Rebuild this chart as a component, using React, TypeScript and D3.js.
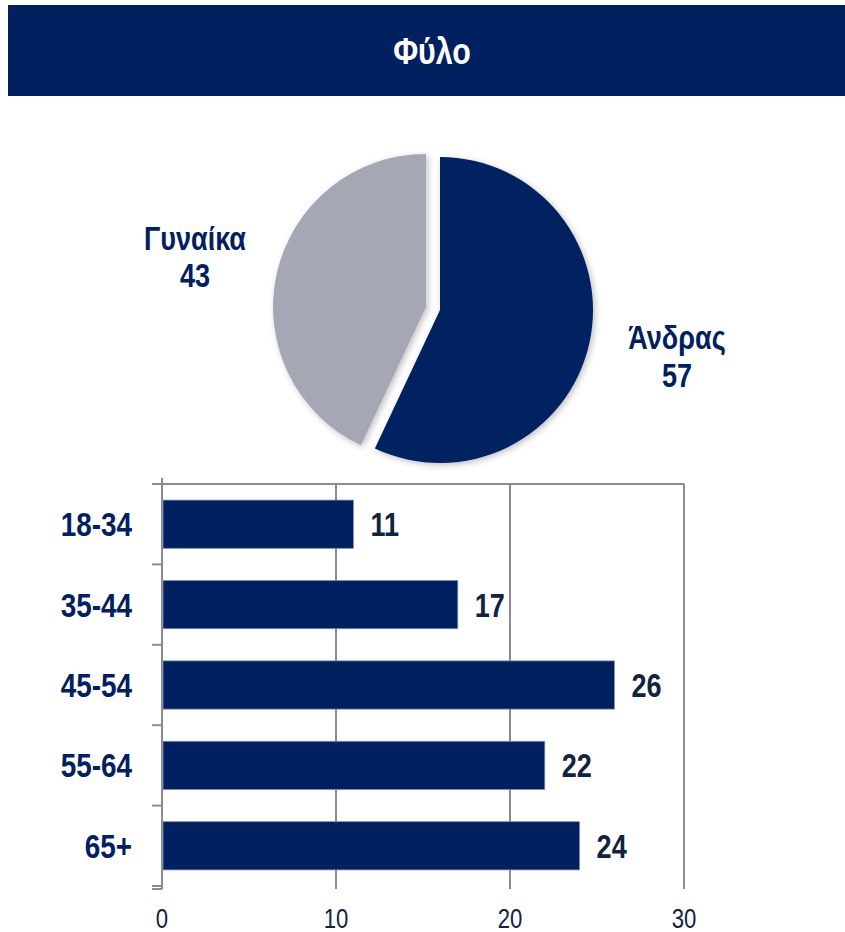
import React from "react";
import * as d3 from "d3";

const genderLabels = ["Άνδρας", "Γυναίκα"];
const genderValues = [57, 43];
const ageCategories = ["18-34", "35-44", "45-54", "55-64", "65+"];
const ageValues = [11, 17, 26, 22, 24];
const xTicks = [0, 10, 20, 30];
const title = "Φύλο";

const NAVY = "#002060";
const DARK = "#0f243e";
const GREY = "#a5a7b5";
const FONT = "'Liberation Sans Narrow', 'Arial Narrow', 'Liberation Sans', Arial, sans-serif";
const SX = 0.82;

function NText(props: { x: number; y: number; anchor?: string; fill: string; size: number; bold?: boolean; children: any }) {
  return (
    <text transform={`translate(${props.x},${props.y}) scale(${SX},1)`} textAnchor={props.anchor || "start"}
      fill={props.fill} fontSize={props.size} fontWeight={props.bold ? "bold" : "normal"}>
      {props.children}
    </text>
  );
}

export default function App() {
  const W = 845, H = 932;
  const cx = 440, cy = 310, r = 153;
  const pie = d3.pie<number>().sort(null).value((d) => d)(genderValues);
  const arc = d3.arc<d3.PieArcDatum<number>>().innerRadius(0).outerRadius(r);
  const explode = [0, 14.3];

  const x = d3.scaleLinear().domain([0, 30]).range([162, 684]);
  const y = d3.scaleBand().domain(ageCategories).range([484, 886]).paddingInner(0.4).paddingOuter(0.2);
  const yb = d3.scaleBand().domain(ageCategories).range([484, 886]);
  const top = 484, bottom = 889;

  return (
    <svg width={W} height={H} style={{ position: "absolute", left: 0, top: 0, fontFamily: FONT }}>
      <defs>
        <filter id="sh" x="-20%" y="-20%" width="140%" height="140%">
          <feDropShadow dx="2" dy="2" stdDeviation="3" floodColor="#000" floodOpacity="0.25" />
        </filter>
      </defs>
      <rect x={0} y={0} width={W} height={H} fill="#fff" />
      <rect x={8} y={5} width={837} height={91} fill={NAVY} />
      <NText x={432} y={64} anchor="middle" fill="#fff" bold size={37}>{title}</NText>

      {pie.map((p, i) => {
        const mid = (p.startAngle + p.endAngle) / 2;
        const dx = Math.sin(mid) * explode[i];
        const dy = -Math.cos(mid) * explode[i];
        return (
          <path key={i} d={arc(p) || ""} transform={`translate(${cx + dx},${cy + dy})`}
            fill={i === 0 ? NAVY : GREY} filter="url(#sh)" />
        );
      })}
      <NText x={195} y={250} anchor="middle" fill={NAVY} bold size={33}>{genderLabels[1]}</NText>
      <NText x={195} y={287} anchor="middle" fill={NAVY} bold size={33}>{genderValues[1]}</NText>
      <NText x={677} y={349} anchor="middle" fill={NAVY} bold size={33}>{genderLabels[0]}</NText>
      <NText x={677} y={387} anchor="middle" fill={NAVY} bold size={33}>{genderValues[0]}</NText>

      {xTicks.slice(1).map((t) => (
        <line key={t} x1={x(t)} x2={x(t)} y1={top} y2={bottom} stroke="#8c8c8c" strokeWidth={2} />
      ))}
      <line x1={152} x2={x(30)} y1={top} y2={top} stroke="#8c8c8c" strokeWidth={2} />
      <line x1={x(0)} x2={x(0)} y1={478} y2={bottom} stroke="#8c8c8c" strokeWidth={2} />
      {ageCategories.map((c) => (
        <line key={c} x1={152} x2={162} y1={(yb(c) || 0) + yb.bandwidth()} y2={(yb(c) || 0) + yb.bandwidth()}
          stroke="#8c8c8c" strokeWidth={2} />
      ))}
      <line x1={152} x2={162} y1={bottom} y2={bottom} stroke="#8c8c8c" strokeWidth={2} />

      {ageCategories.map((c, i) => {
        const by = y(c) || 0;
        const bh = y.bandwidth();
        const cyb = by + bh / 2;
        const lx = x(ageValues[i]) + 17;
        return (
          <g key={c}>
            <rect x={x(0) + 1} y={by} width={x(ageValues[i]) - x(0) - 1} height={bh} fill={NAVY}
              stroke="#7f8fb5" strokeWidth={0.8} />
            <rect x={lx - 3} y={cyb - 22} width={36} height={44} fill="#fff" />
            <NText x={lx} y={cyb + 12} fill={DARK} bold size={33}>{ageValues[i]}</NText>
            <NText x={132} y={cyb + 12} anchor="end" fill={NAVY} bold size={34}>{c}</NText>
          </g>
        );
      })}
      {xTicks.map((t) => (
        <NText key={t} x={x(t)} y={928} anchor="middle" fill={DARK} size={27}>{t}</NText>
      ))}
    </svg>
  );
}
